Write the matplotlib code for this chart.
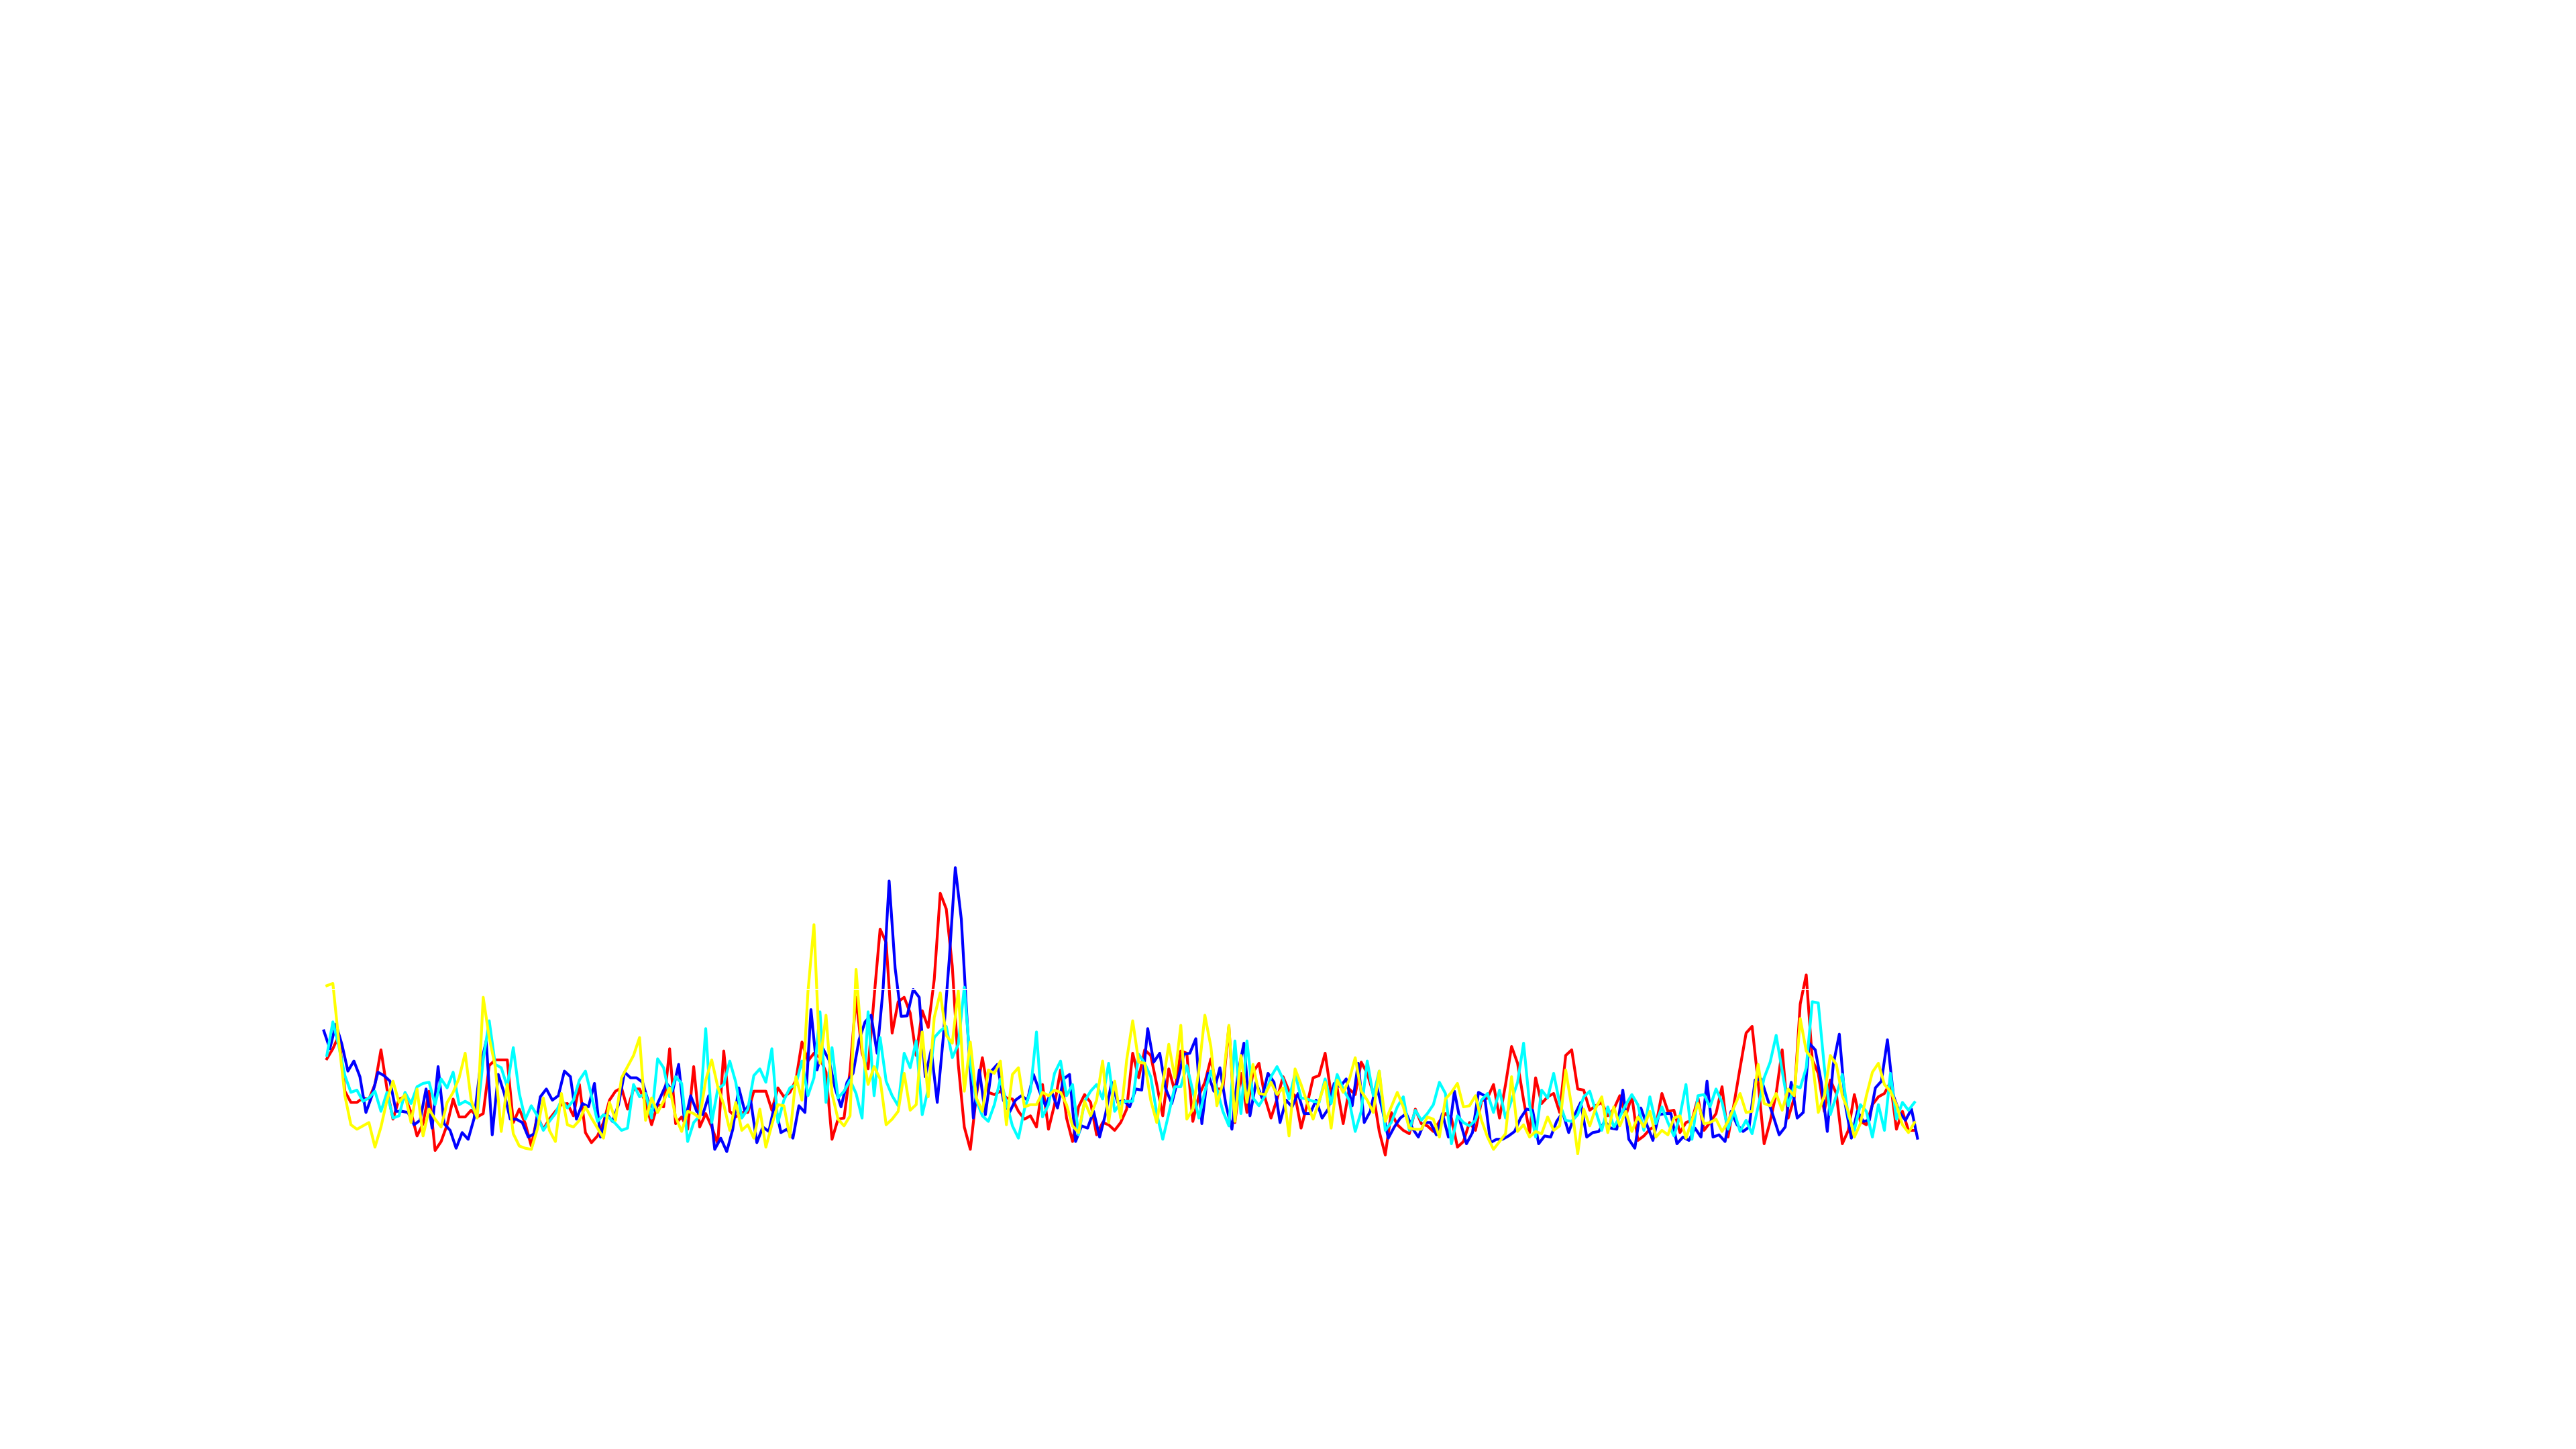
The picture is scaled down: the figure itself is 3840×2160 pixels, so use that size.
import numpy as np
import matplotlib
matplotlib.use("Agg")
import matplotlib.pyplot as plt

blue = [63, 55, 66, 57, 45, 49.5, 42.5, 26.5, 34, 44.5, 43, 40.5, 27, 27, 26.5, 21, 23, 37, 19.5, 47,
        21.5, 18.5, 10.5, 17.5, 14.5, 24, 46.5, 58.5, 16.5, 43.5, 35, 23.5, 23.5, 22, 15.5, 17, 33.5, 37, 32, 34,
        45, 42.5, 23.5, 30.5,
        29, 39.5, 15.5, 26, 22.5, 30, 44.5, 42, 42, 40, 31, 27.5, 33.5, 39.5, 36, 48, 22, 34, 27, 25.5,
        34, 10, 15, 9, 19, 37.5, 27, 31.5, 13, 20, 18, 30.5, 17.5, 19, 15, 29.5, 26.5, 72.5, 45.5, 55, 50, 37.5,
        29, 40, 44, 59, 67, 70, 53, 82, 130, 91, 69.5, 69.7, 81.5, 78, 42.5, 54.5, 31, 60, 95, 136,
        113, 66, 24, 45.5, 25.5, 45, 48, 32, 26.5, 32, 34, 32, 43.5, 36, 29.5, 36, 28.5, 41.5, 43.5, 13.5,
        20.5, 19.5, 27, 15.5, 26,
        40, 31, 32, 29, 37, 36.5, 64, 49, 53, 37, 30.5, 41, 52.5, 53, 59.5, 21.5, 44, 36, 46.5, 30,
        19, 44, 57.5, 25, 40, 33, 44, 40, 22, 32, 29, 35, 26, 26, 32, 24, 28, 39.5, 38, 41.5, 29.5, 48.5,
        22, 27, 39, 28, 15, 20, 24, 26, 19.5, 15.5, 22, 22, 16.5, 26, 15.5, 36, 22, 12.5, 17.5, 35.5,
        34, 13, 14.5, 14.5, 16, 18, 24, 28, 27.5, 12.5, 16, 15.5, 22.5, 26.5, 17.5, 25.5, 31, 15.5, 17.5, 18,
        22.5, 19.5, 19,
        36.5, 14.5, 10.5, 28.5, 21, 14, 25.5, 26, 26, 12.5, 15.5, 14, 19.5, 15.5, 40.5, 15.5, 16.5, 13.5, 27, 21,
        18, 20, 41, 41.5, 33, 25, 16.5, 20, 40, 24, 26.5, 57.5, 54.5, 40, 18, 48, 61.5, 30, 15, 27,
        22.5, 23, 37.5, 40.5, 59, 34, 26.5, 23, 28, 15]

red = [50.5, 55, 61, 36, 31, 31, 33, 32.5, 39, 54.5, 37, 23.5, 32.5, 33.5, 26.5, 16, 21.5, 36, 9.5, 13.5,
       21, 32.5, 24.5, 24.5, 27.5, 24.5, 26, 47.5, 50, 50, 50, 22, 28, 21.5, 11.5, 25, 19, 23.5, 27, 30,
       30.5, 25, 39, 17.5,
       13, 16, 22, 32, 36, 37.5, 28, 37, 37, 31, 21, 30, 29, 55, 21.5, 24.5, 19, 47, 20, 26,
       20, 12.5, 54, 27, 24.5, 26.5, 26.5, 36, 36, 36, 27.5, 37.5, 33.5, 35.5, 41, 58, 49.5, 53, 51, 44.5,
       14.5, 23.5, 24,
       45, 78, 53, 46, 78, 108.5, 102.5, 62, 76, 78, 71, 52, 72, 64.5, 86, 124.5, 117.5, 92, 48, 20,
       10, 34, 51, 35.5, 34.5, 36, 33, 32.5, 27, 23.5, 25, 20, 39, 19, 30, 45.5, 24, 13.5, 29, 34.5,
       31, 16.5, 22,
       21, 18.5, 22, 28, 53, 42, 54.5, 52, 39, 25, 46, 36, 54, 53, 22.5, 34, 40, 50.5, 37, 37,
       65, 22, 44, 26.5, 44.5, 48.5, 33, 24, 32.5, 42.5, 36, 34, 19.5, 30, 42, 43, 53, 34.5, 37.5, 21.5,
       37, 34.5,
       49, 44, 35, 18, 7.5, 26.5, 21, 18.5, 17, 28, 21.5, 20.5, 18, 22.5, 26, 24, 11, 13.5, 22, 18.5,
       31.5, 33, 39, 24, 39, 56, 48.5, 32, 17.5, 42, 30.5, 33.5, 35, 26.5, 52, 54.5, 37, 36.5, 27.5, 29.5,
       31, 25, 28, 34,
       25, 34, 14, 16, 19, 20.5, 35, 27, 27.5, 17.5, 22, 23, 33, 18.5, 22, 26, 38, 15.5, 30.5, 46.5,
       62, 65, 40, 12.5, 22.5, 35, 54.5, 24, 33, 75, 88, 50, 44, 27, 41, 35, 12.5, 18.5, 34.5, 22.5,
       21, 30, 33.5, 35, 40, 19, 27, 18.5, 18.5]

cyan = [52, 67, 56, 43, 35.5, 36.5, 31.5, 33, 36, 27, 35.5, 24, 25, 35.5, 30.5, 38, 39.5, 40, 30, 41.5,
        37.5, 44.5, 30, 31.5, 30, 25, 50, 67.5, 48, 46.5, 38, 55.5, 35, 23.5, 29.5, 25, 18.5, 22.5, 26, 32,
        28.5, 32, 41, 45,
        34, 22.5, 25.5, 24, 21.5, 18.5, 19.5, 39, 33.5, 35, 24, 50.5, 46.5, 33.5, 42.5, 39.5, 13.5, 22, 25, 64,
        22, 37, 39, 49.5, 40, 24, 28, 43, 46, 40, 55, 22, 32, 37.5, 39, 49.5, 34, 42, 71.5, 31,
        55.5, 33,
        36, 41, 35, 24, 71.5, 34, 60, 40.5, 34, 29.5, 53, 46.5, 58.5, 25.5, 37, 60, 63, 65, 51, 57,
        82.5, 48, 32, 25, 22.5, 30, 41.5, 31, 20.5, 15, 28, 36, 62.5, 24.5, 30, 44, 49.5, 34, 39, 16.5,
        31.5, 36, 39, 32.5,
        48.5, 27, 31, 31.5, 31.5, 52.5, 48.5, 42.5, 26, 14.5, 26, 38, 38, 47.5, 36, 24, 36, 45, 37, 27,
        20.5, 58.5, 26, 58.5, 33, 29.5, 34, 42.5, 47, 41.5, 32.5, 44, 33, 32.5, 31.5, 31, 41.5, 30.5, 43.5, 37,
        32, 18,
        27, 49.5, 34, 45, 18.5, 22, 29, 33.5, 18.5, 27.5, 23, 26, 30, 40, 35, 12.5, 25, 22, 20.5, 23,
        32, 35, 26.5, 36.5, 24, 32, 40, 57.5, 30, 15.5, 36.5, 33, 44, 30.5, 23, 22.5, 25.5, 33.5, 36, 27,
        18.5, 29, 20, 24.5,
        30, 34.5, 30, 18.5, 33.5, 21.5, 29, 22, 16, 25, 39, 14.5, 34, 34.5, 29, 37, 31, 19, 27, 18,
        23, 17, 29, 42, 49, 61, 45, 29.5, 38.5, 37.5, 46.5, 76, 75.5, 47, 25.5, 34, 43.5, 25, 18.5, 30,
        27, 15.5, 30, 18.5, 44, 23.5, 31, 27.5, 31]

yellow = [83.2, 84.2, 58, 34, 21, 19, 20.5, 22, 11, 20, 32, 40.5, 31, 34.5, 22, 37, 16, 28, 23.5, 20,
          31, 35.5, 42, 53, 32, 24, 78, 60, 47, 18, 39, 17, 11.5, 10.5, 10, 19, 33, 18.5, 13.5, 35,
          21, 20, 23, 29,
          24, 19.5, 15, 31, 23, 42, 47, 52, 60, 23, 33, 26.5, 31.5, 37.5, 24.5, 18, 27, 26, 24, 41,
          50, 38, 30, 18.5, 31, 18.5, 21, 15, 28, 11, 21, 30, 29.5, 15.5, 42.5, 32, 80.5, 110.5, 48.5, 70,
          35, 23.5, 20.5,
          25, 90.5, 55, 39, 47, 41.5, 21, 23.5, 27, 44, 27.5, 30, 62.5, 33.5, 69, 80, 61, 57.5, 81, 36,
          58, 33, 27, 45.5, 44, 49.5, 21, 43.5, 46.5, 29, 30, 30, 35.5, 34, 36.5, 35.5, 30, 20.5, 17.5, 31.5,
          25, 32, 49.5,
          22, 40.5, 24, 50, 67.5, 49, 48.5, 32, 22, 39, 57, 42, 65.5, 23.5, 28, 45, 70, 56, 29.5, 40,
          65.5, 22.5, 52, 31, 48, 35, 34.5, 40, 34.5, 37.5, 16, 46, 39, 31, 23.5, 31.5, 40, 19.5, 41, 35.5,
          41, 51,
          36, 32, 26.5, 45, 22.5, 29, 35.5, 29, 19.5, 19, 19, 24.5, 23.5, 15.5, 32.5, 35.5, 39.5, 29, 29.5, 34,
          23, 15.5, 10, 13.5, 17, 42.5, 18, 21, 15.5, 18, 17, 24.5, 18.5, 20.5, 45.5, 29, 8, 28, 20.5, 28.5,
          33.5, 17.5, 29, 20.5,
          27, 18, 24.5, 20, 27, 15.5, 18.5, 16.5, 24, 25, 15, 23, 30.5, 21.5, 22, 23.5, 18, 22.5, 29, 35,
          26.5, 27, 48, 30.5, 29.5, 35, 27.5, 37, 34, 68.5, 54, 50.5, 26.5, 34, 52, 48, 34, 27, 15.5, 21.5,
          34, 44.5, 48.5, 39, 36, 30, 21, 17.5, 22]

x_blue = np.arange(len(blue))
x_half = np.arange(len(red)) + 0.5

fig = plt.figure(figsize=(12.8, 7.2), dpi=300)
ax = fig.add_axes([0, 0, 1, 1])
ax.axis("off")

lw = 1.0
ax.plot(x_half, red, color="#ff0000", lw=lw, zorder=2)
ax.plot(x_blue, blue, color="#0000ff", lw=lw, zorder=3)
ax.plot(np.arange(len(cyan)) + 0.5, cyan, color="#00ffff", lw=lw, zorder=4)
ax.plot(np.arange(len(yellow)) + 0.5, yellow, color="#ffff00", lw=lw, zorder=5)
ax.axhline(81.5, color="white", lw=0.4, zorder=10)

ax.set_xlim(-53.85, 374.5)
ax.set_ylim(-124, 524)

fig.savefig("out.png", dpi=300, facecolor="white")
